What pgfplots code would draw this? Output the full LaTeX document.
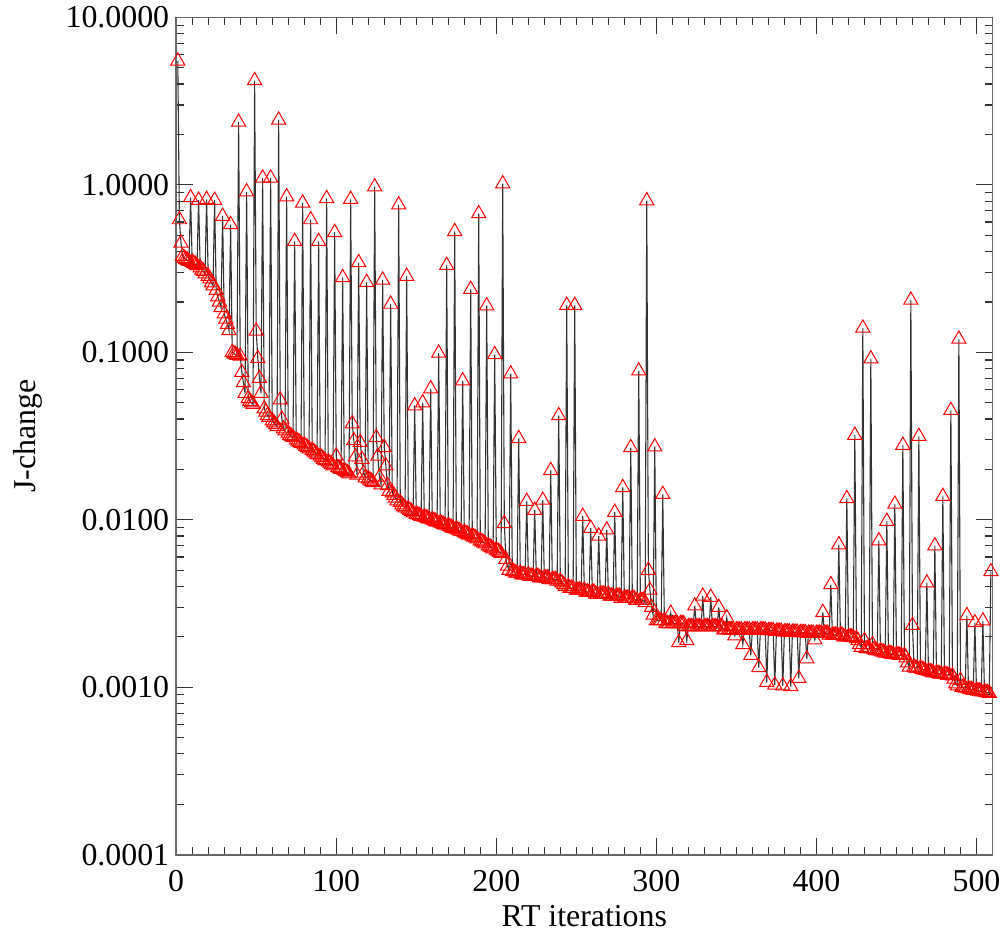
\documentclass[border=0pt]{standalone}
\usepackage{fontspec}
\setmainfont{Liberation Serif}
\usepackage{pgfplots}
\pgfplotsset{compat=1.18}
\begin{document}
\begin{tikzpicture}
\begin{axis}[
  scale only axis,
  width=410pt, height=420.5pt,
  xmin=0, xmax=510,
  ymode=log, ymin=1e-4, ymax=10,
  xtick={0,100,200,300,400,500},
  xticklabels={0,100,200,300,400,500},
  minor x tick num=9,
  ytick={1e-4,1e-3,1e-2,1e-1,1,10},
  yticklabels={0.0001,0.0010,0.0100,0.1000,1.0000,10.0000},
  tick align=inside,
  xtick pos=both, ytick pos=both,
  major tick length=8.5pt, minor tick length=4pt,
  every tick/.style={black!80, line width=0.6pt},
  axis line style={black!60, line width=0.9pt},
  tick label style={font=\fontsize{16}{19}\selectfont},
  xticklabel style={yshift=-4.5pt},
  label style={font=\fontsize{16}{19}\selectfont},
  xlabel={RT iterations},
  ylabel={J-change},
  xlabel style={at={(axis description cs:0.5,-0.0737)}, anchor=center},
  ylabel style={at={(axis description cs:-0.1817,0.5)}, anchor=center},
]
\addplot[black!80, line width=0.55pt, mark=triangle, mark size=4.1pt,
  mark options={draw=red, fill=none, line width=0.5pt, solid}] coordinates {
(1,5.5)(2,0.62)(3,0.45)(4,0.375)
(5,0.365)(6,0.36)(7,0.355)(8,0.35)(9,0.84)
(10,0.345)(11,0.34)(12,0.335)(13,0.33)(14,0.81)
(15,0.32)(16,0.31)(17,0.305)(18,0.295)(19,0.82)
(20,0.285)(21,0.275)(22,0.26)(23,0.25)(24,0.81)
(25,0.235)(26,0.215)(27,0.2)(28,0.185)(29,0.65)
(30,0.17)(31,0.158)(32,0.147)(33,0.135)(34,0.58)
(35,0.1)(36,0.098)(37,0.097)(38,0.096)(39,2.37)
(40,0.095)(41,0.076)(42,0.066)(43,0.057)(44,0.91)
(45,0.053)(46,0.051)(47,0.05)(48,0.049)(49,4.2)
(50,0.134)(51,0.092)(52,0.07)(53,0.057)(54,1.1)
(55,0.046)(56,0.044)(57,0.042)(58,0.041)(59,1.1)
(60,0.039)(61,0.038)(62,0.037)(63,0.036)(64,2.44)
(65,0.052)(66,0.04)(67,0.035)(68,0.034)(69,0.85)
(70,0.033)(71,0.032)(72,0.0315)(73,0.031)(74,0.46)
(75,0.03)(76,0.0295)(77,0.029)(78,0.0285)(79,0.78)
(80,0.028)(81,0.0275)(82,0.027)(83,0.0265)(84,0.62)
(85,0.026)(86,0.0255)(87,0.025)(88,0.0245)(89,0.46)
(90,0.024)(91,0.0235)(92,0.023)(93,0.0226)(94,0.83)
(95,0.0222)(96,0.0218)(97,0.0214)(98,0.021)(99,0.52)
(100,0.024)(101,0.0205)(102,0.0202)(103,0.02)(104,0.28)
(105,0.0197)(106,0.0194)(107,0.0191)(108,0.0188)(109,0.82)
(110,0.0375)(111,0.0297)(112,0.0238)(113,0.0185)(114,0.344)
(115,0.029)(116,0.023)(117,0.019)(118,0.0178)(119,0.262)
(120,0.0176)(121,0.0173)(122,0.017)(123,0.0167)(124,0.975)
(125,0.031)(126,0.024)(127,0.018)(128,0.0162)(129,0.27)
(130,0.027)(131,0.021)(132,0.016)(133,0.0148)(134,0.194)
(135,0.0145)(136,0.014)(137,0.0135)(138,0.013)(139,0.76)
(140,0.0127)(141,0.0123)(142,0.012)(143,0.0118)(144,0.285)
(145,0.0116)(146,0.0114)(147,0.0112)(148,0.011)(149,0.048)
(150,0.0108)(151,0.0107)(152,0.0106)(153,0.0105)(154,0.05)
(155,0.0104)(156,0.0103)(157,0.0102)(158,0.0101)(159,0.0606)
(160,0.01)(161,0.0099)(162,0.0098)(163,0.0097)(164,0.099)
(165,0.0096)(166,0.0095)(167,0.0094)(168,0.0093)(169,0.331)
(170,0.0092)(171,0.0091)(172,0.009)(173,0.0089)(174,0.527)
(175,0.0088)(176,0.0087)(177,0.0086)(178,0.0085)(179,0.0676)
(180,0.0084)(181,0.0083)(182,0.0082)(183,0.0081)(184,0.238)
(185,0.008)(186,0.0079)(187,0.0078)(188,0.0077)(189,0.674)
(190,0.0075)(191,0.0074)(192,0.0073)(193,0.0072)(194,0.19)
(195,0.007)(196,0.0069)(197,0.0068)(198,0.0067)(199,0.097)
(200,0.0066)(201,0.0065)(202,0.0064)(203,0.0063)(204,1.016)
(205,0.0095)(206,0.0058)(207,0.0053)(208,0.005)(209,0.0744)
(210,0.0049)(211,0.0049)(212,0.0048)(213,0.0048)(214,0.0306)
(215,0.0048)(216,0.0047)(217,0.0047)(218,0.0047)(219,0.0129)
(220,0.0047)(221,0.0046)(222,0.0046)(223,0.0046)(224,0.0114)
(225,0.0046)(226,0.0046)(227,0.0045)(228,0.0045)(229,0.0131)
(230,0.0045)(231,0.0045)(232,0.0045)(233,0.0044)(234,0.0197)
(235,0.0044)(236,0.0044)(237,0.0044)(238,0.0043)(239,0.0419)
(240,0.0043)(241,0.0042)(242,0.0041)(243,0.004)(244,0.191)
(245,0.004)(246,0.0039)(247,0.0039)(248,0.0039)(249,0.191)
(250,0.0038)(251,0.0038)(252,0.0038)(253,0.0038)(254,0.0105)
(255,0.0038)(256,0.0037)(257,0.0037)(258,0.0037)(259,0.0089)
(260,0.0037)(261,0.0037)(262,0.0036)(263,0.0036)(264,0.008)
(265,0.0036)(266,0.0036)(267,0.0036)(268,0.0036)(269,0.0087)
(270,0.0036)(271,0.0035)(272,0.0035)(273,0.0035)(274,0.0111)
(275,0.0035)(276,0.0035)(277,0.0035)(278,0.0034)(279,0.0156)
(280,0.0034)(281,0.0034)(282,0.0034)(283,0.0034)(284,0.027)
(285,0.0034)(286,0.0034)(287,0.0033)(288,0.0033)(289,0.0775)
(290,0.0033)(291,0.0033)(292,0.0033)(293,0.0032)(294,0.805)
(295,0.005)(296,0.0038)(297,0.003)(298,0.0027)(299,0.0273)
(300,0.0025)(301,0.0025)(302,0.0025)(303,0.0025)(304,0.0142)
(305,0.0025)(306,0.0024)(307,0.0024)(308,0.0024)(309,0.00277)
(310,0.0024)(311,0.0024)(312,0.0024)(313,0.0024)(314,0.00185)
(315,0.0024)(316,0.0024)(317,0.0024)(318,0.0023)(319,0.0019)
(320,0.0023)(321,0.0023)(322,0.0023)(323,0.0023)(324,0.00306)
(325,0.0023)(326,0.0023)(327,0.0023)(328,0.0023)(329,0.0035)
(330,0.0023)(331,0.0023)(332,0.0023)(333,0.0023)(334,0.00345)
(335,0.0023)(336,0.0023)(337,0.0023)(338,0.0023)(339,0.003)
(340,0.0023)(341,0.0023)(342,0.0022)(343,0.0022)(344,0.0026)
(345,0.0022)(346,0.0022)(347,0.0022)(348,0.0022)(349,0.00203)
(350,0.0022)(351,0.0022)(352,0.0022)(353,0.0022)(354,0.0018)
(355,0.0022)(356,0.0022)(357,0.0022)(358,0.0022)(359,0.00155)
(360,0.0022)(361,0.0022)(362,0.0022)(363,0.0022)(364,0.00131)
(365,0.0022)(366,0.0022)(367,0.0022)(368,0.0022)(369,0.00107)
(370,0.00218)(371,0.00218)(372,0.00218)(373,0.00218)(374,0.00103)
(375,0.00216)(376,0.00216)(377,0.00216)(378,0.00216)(379,0.00102)
(380,0.00214)(381,0.00214)(382,0.00214)(383,0.00214)(384,0.00101)
(385,0.00213)(386,0.00213)(387,0.00213)(388,0.00213)(389,0.00113)
(390,0.00212)(391,0.00212)(392,0.00212)(393,0.00212)(394,0.00148)
(395,0.0021)(396,0.0021)(397,0.0021)(398,0.0021)(399,0.00192)
(400,0.0021)(401,0.0021)(402,0.0021)(403,0.0021)(404,0.0028)
(405,0.0021)(406,0.0021)(407,0.0021)(408,0.00205)(409,0.0041)
(410,0.00205)(411,0.00205)(412,0.00205)(413,0.00205)(414,0.0071)
(415,0.00205)(416,0.00205)(417,0.002)(418,0.002)(419,0.0134)
(420,0.002)(421,0.002)(422,0.002)(423,0.00198)(424,0.032)
(425,0.00195)(426,0.0019)(427,0.0018)(428,0.00173)(429,0.1397)
(430,0.0019)(431,0.0017)(432,0.0017)(433,0.0017)(434,0.0915)
(435,0.0018)(436,0.00168)(437,0.00166)(438,0.00165)(439,0.0075)
(440,0.00165)(441,0.00163)(442,0.00162)(443,0.0016)(444,0.0098)
(445,0.0016)(446,0.00159)(447,0.00158)(448,0.00157)(449,0.0124)
(450,0.00157)(451,0.00156)(452,0.00155)(453,0.00155)(454,0.0279)
(455,0.00155)(456,0.0015)(457,0.0014)(458,0.00132)(459,0.205)
(460,0.00234)(461,0.00132)(462,0.0013)(463,0.0013)(464,0.0315)
(465,0.0013)(466,0.00128)(467,0.00127)(468,0.00126)(469,0.0042)
(470,0.00125)(471,0.00124)(472,0.00123)(473,0.00122)(474,0.007)
(475,0.00122)(476,0.00121)(477,0.0012)(478,0.0012)(479,0.0138)
(480,0.0012)(481,0.00119)(482,0.00118)(483,0.00118)(484,0.045)
(485,0.00117)(486,0.00112)(487,0.00105)(488,0.00102)(489,0.12)
(490,0.0011)(491,0.001)(492,0.001)(493,0.00099)(494,0.00268)
(495,0.00098)(496,0.00097)(497,0.00097)(498,0.00096)(499,0.00243)
(500,0.00096)(501,0.00095)(502,0.00095)(503,0.00094)(504,0.00249)
(505,0.00094)(506,0.00093)(507,0.00093)(508,0.00092)(509,0.0049)
};
\end{axis}
\path ([xshift=-88.5pt,yshift=-44.5pt]current axis.south west) rectangle ([xshift=5pt,yshift=6pt]current axis.north east);
\end{tikzpicture}
\end{document}
